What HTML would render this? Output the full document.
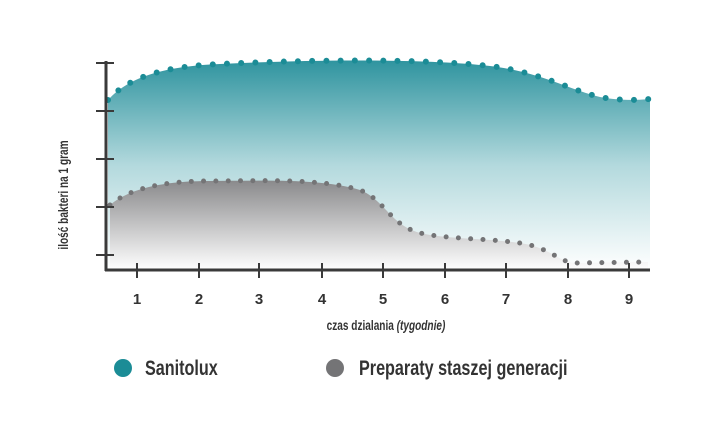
<!DOCTYPE html>
<html><head><meta charset="utf-8"><style>
html,body{margin:0;padding:0;background:#fff;width:720px;height:423px;overflow:hidden}
text{font-family:"Liberation Sans",sans-serif}
</style></head><body>
<svg width="720" height="423" viewBox="0 0 720 423" xmlns="http://www.w3.org/2000/svg">
<defs>
<linearGradient id="gt" x1="0" y1="0" x2="0" y2="1"><stop offset="0" stop-color="#2f949f"/><stop offset="0.5" stop-color="#b3d9dd"/><stop offset="1" stop-color="#ffffff"/></linearGradient>
<linearGradient id="gg" x1="0" y1="0" x2="0" y2="1"><stop offset="0" stop-color="#8a8a8c"/><stop offset="1" stop-color="#ffffff"/></linearGradient>
</defs>
<path d="M108,100 C130,75 170,66 220,64 C300,60 420,58 490,66 C540,72 570,90 600,97 C620,101 640,100 650,99 L650,270 L108,270 Z" fill="url(#gt)"/>
<path d="M110,205 C130,188 165,181 210,181 C260,181 320,178 360,190 C385,200 390,225 420,233 C450,240 500,238 530,245 C555,252 560,262 575,263 L648,262 L648,270 L110,270 Z" fill="url(#gg)"/>
<path d="M108,100 C130,75 170,66 220,64 C300,60 420,58 490,66 C540,72 570,90 600,97 C620,101 640,100 650,99" fill="none" stroke="#1b8c96" stroke-width="6" stroke-linecap="round" stroke-dasharray="0 14.2"/>
<path d="M110,205 C130,188 165,181 210,181 C260,181 320,178 360,190 C385,200 390,225 420,233 C450,240 500,238 530,245 C555,252 560,262 575,263 L648,262" fill="none" stroke="#747476" stroke-width="5" stroke-linecap="round" stroke-dasharray="0 12.3"/>
<g stroke="#3a3a3a" stroke-width="3">
<line x1="106" y1="61" x2="106" y2="271"/>
<line x1="105" y1="270" x2="650" y2="270"/>
</g>
<g stroke="#3a3a3a" stroke-width="2">
<line x1="96" y1="63" x2="114" y2="63"/><line x1="96" y1="111" x2="114" y2="111"/><line x1="96" y1="159" x2="114" y2="159"/><line x1="96" y1="207" x2="114" y2="207"/><line x1="96" y1="255" x2="114" y2="255"/>
<line x1="137" y1="263" x2="137" y2="278"/><line x1="199" y1="263" x2="199" y2="278"/><line x1="259" y1="263" x2="259" y2="278"/><line x1="322" y1="263" x2="322" y2="278"/><line x1="383" y1="263" x2="383" y2="278"/><line x1="445" y1="263" x2="445" y2="278"/><line x1="506" y1="263" x2="506" y2="278"/><line x1="568" y1="263" x2="568" y2="278"/><line x1="629" y1="263" x2="629" y2="278"/>
</g>
<g font-size="15" font-weight="bold" fill="#333" text-anchor="middle">
<text x="137" y="304">1</text><text x="199" y="304">2</text><text x="259" y="304">3</text><text x="322" y="304">4</text><text x="383" y="304">5</text><text x="445" y="304">6</text><text x="506" y="304">7</text><text x="568" y="304">8</text><text x="629" y="304">9</text>
</g>
<text transform="translate(386,330) scale(0.72,1)" text-anchor="middle" font-size="14" font-weight="bold" fill="#333">czas dzialania <tspan font-style="italic">(tygodnie)</tspan></text>
<text transform="translate(68,195) rotate(-90) scale(0.72,1)" text-anchor="middle" font-size="14" font-weight="bold" fill="#333">ilość bakteri na 1 gram</text>
<circle cx="123" cy="368" r="9" fill="#1b8c96"/>
<text transform="translate(145,375) scale(0.77,1)" font-size="21" font-weight="bold" fill="#333">Sanitolux</text>
<circle cx="335" cy="368" r="9" fill="#747476"/>
<text transform="translate(359,375) scale(0.77,1)" font-size="21" font-weight="bold" fill="#333">Preparaty staszej generacji</text>
</svg>
</body></html>
